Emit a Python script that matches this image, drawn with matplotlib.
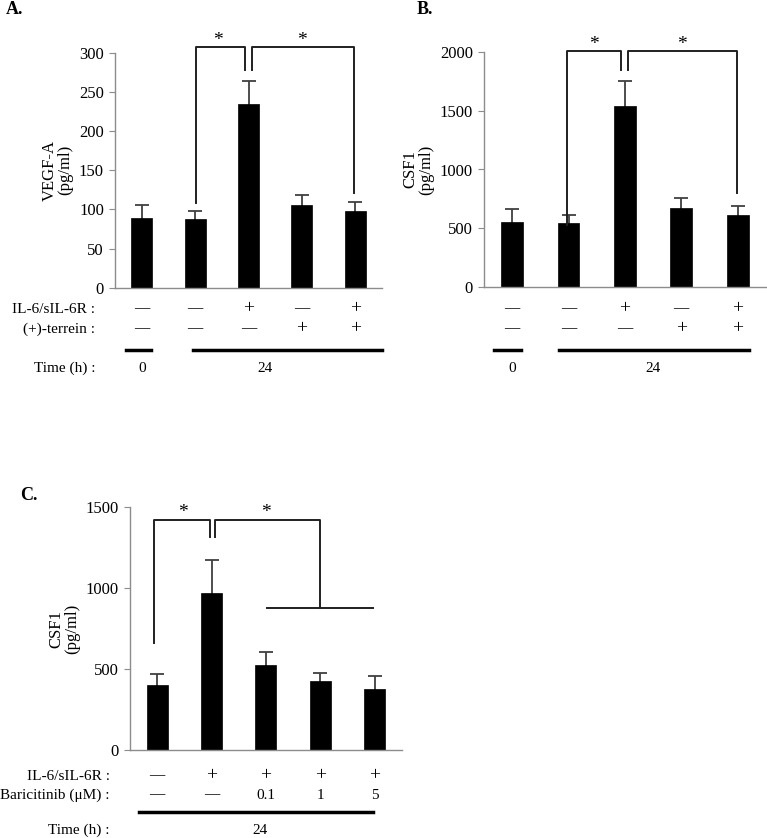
import numpy as np
import matplotlib
matplotlib.use('Agg')
import matplotlib.pyplot as plt
from matplotlib.transforms import blended_transform_factory

plt.rcParams['font.family'] = ['Liberation Serif', 'DejaVu Serif']
plt.rcParams['font.size'] = 10

W, H = 767, 838

# panel A: VEGF-A
a_vals = [89, 88, 234, 106, 98]
a_err = [16, 10, 30, 12, 11]
a_il6 = ['—', '—', '+', '—', '+']
a_terr = ['—', '—', '—', '+', '+']

# panel B: CSF1
b_vals = [557, 548, 1539, 671, 614]
b_err = [105, 66, 212, 84, 79]

# panel C: CSF1 with baricitinib
c_vals = [404, 972, 523, 426, 379]
c_err = [66, 202, 82, 48, 78]
c_il6 = ['—', '+', '+', '+', '+']
c_bari = ['—', '—', '0.1', '1', '5']

fig = plt.figure(figsize=(W / 100, H / 100), dpi=100)


def make_ax(x0, x1, ytop, ybot):
    return fig.add_axes([x0 / W, 1 - ybot / H, (x1 - x0) / W, (ybot - ytop) / H])


def bars(ax, vals, err, ymax, step, ylabel):
    x = np.arange(len(vals))
    # error bars sit behind the bars, so only the upper half shows
    ax.errorbar(x, vals, yerr=err, fmt='none', ecolor='#404040',
                elinewidth=1.3, capsize=5, capthick=1.3, zorder=0.5)
    ax.bar(x, vals, width=0.39, color='black', edgecolor='black',
           linewidth=0.5, zorder=1)
    ax.set_xlim(-0.5, len(vals) - 0.5)
    ax.set_ylim(0, ymax)
    ax.set_yticks(np.arange(0, ymax + 1, step))
    ax.set_xticks([])
    for s in ['top', 'right']:
        ax.spines[s].set_visible(False)
    for s in ['left', 'bottom']:
        ax.spines[s].set_color('#8c8c8c')
        ax.spines[s].set_linewidth(1.0)
        ax.spines[s].set_zorder(2)
    ax.tick_params(axis='y', direction='out', length=4, color='#8c8c8c',
                   labelsize=12, pad=4)
    ax.set_ylabel(ylabel, fontsize=12, linespacing=1.0)


def bracket(ax, pts, star_x, star_y):
    xs, ys = zip(*pts)
    ax.plot(xs, ys, color='#202020', lw=1.4, clip_on=False)
    ax.text(star_x, star_y, '*', ha='center', va='center', fontsize=14,
            transform=ax.transData, clip_on=False)


def row(ax, labels, ypx, fs=11):
    tr = blended_transform_factory(ax.transData, fig.transFigure)
    for i, lab in enumerate(labels):
        size = 14 if lab == '+' else fs
        ax.text(i, 1 - ypx / H, lab, ha='center', va='center', fontsize=size,
                transform=tr)


def hline(ax, x0, x1, ypx):
    tr = blended_transform_factory(ax.transData, fig.transFigure)
    ax.plot([x0, x1], [1 - ypx / H] * 2, color='black', lw=2.5,
            transform=tr, clip_on=False)


def left_text(txt, xpx, ypx):
    fig.text(xpx / W, 1 - ypx / H, txt, ha='right', va='center', fontsize=11)


# ---- A
axA = make_ax(115, 382, 52.7, 287.7)
bars(axA, a_vals, a_err, 300, 50, 'VEGF-A\n(pg/ml)')
bracket(axA, [(1.02, 108), (1.02, 307.7), (1.93, 307.7), (1.93, 278)], 1.42, 316)
bracket(axA, [(2.07, 278), (2.07, 307.7), (3.98, 307.7), (3.98, 121)], 3.0, 316)
row(axA, a_il6, 309)
row(axA, a_terr, 329)
hline(axA, -0.3, 0.18, 350)
hline(axA, 0.97, 4.5, 350)
axA.text(0, 1 - 368 / H, '0', ha='center', va='center', fontsize=11,
         transform=blended_transform_factory(axA.transData, fig.transFigure))
axA.text(2.3, 1 - 368 / H, '24', ha='center', va='center', fontsize=11,
         transform=blended_transform_factory(axA.transData, fig.transFigure))
left_text('IL-6/sIL-6R :', 95, 309)
left_text('(+)-terrein :', 95, 329)
left_text('Time (h) :', 95, 368)
fig.text(6 / W, 1 - 10 / H, 'A.', fontsize=13, fontweight='bold', va='center')

# ---- B
axB = make_ax(484, 765.7, 51.7, 287.3)
bars(axB, b_vals, b_err, 2000, 500, 'CSF1\n(pg/ml)')
bracket(axB, [(0.98, 529), (0.98, 2006), (1.93, 2006), (1.93, 1844)], 1.45, 2063)
bracket(axB, [(2.06, 1844), (2.06, 2006), (3.99, 2006), (3.99, 798)], 3.02, 2063)
row(axB, a_il6, 309)
row(axB, a_terr, 329)
hline(axB, -0.32, 0.15, 350)
hline(axB, 0.83, 4.2, 350)
trB = blended_transform_factory(axB.transData, fig.transFigure)
axB.text(0, 1 - 368 / H, '0', ha='center', va='center', fontsize=11, transform=trB)
axB.text(2.5, 1 - 368 / H, '24', ha='center', va='center', fontsize=11, transform=trB)
fig.text(417 / W, 1 - 10 / H, 'B.', fontsize=13, fontweight='bold', va='center')

# ---- C
axC = make_ax(130, 401.7, 507.3, 750)
bars(axC, c_vals, c_err, 1500, 500, 'CSF1\n(pg/ml)')
bracket(axC, [(-0.05, 659), (-0.05, 1421), (0.97, 1421), (0.97, 1314)], 0.48, 1470)
bracket(axC, [(1.06, 1314), (1.06, 1421), (2.99, 1421), (2.99, 876)], 2.0, 1470)
axC.plot([2.02, 3.98], [876, 876], color='#202020', lw=1.4, clip_on=False)
row(axC, c_il6, 776)
row(axC, c_bari, 795)
hline(axC, -0.33, 3.97, 811.7)
trC = blended_transform_factory(axC.transData, fig.transFigure)
axC.text(1.9, 1 - 830 / H, '24', ha='center', va='center', fontsize=11, transform=trC)
left_text('IL-6/sIL-6R :', 110, 776)
left_text('Baricitinib (μM) :', 110, 795)
left_text('Time (h) :', 110, 830)
fig.text(20 / W, 1 - 495 / H, 'C.', fontsize=13, fontweight='bold', va='center')

fig.savefig('out.png', dpi=100)
